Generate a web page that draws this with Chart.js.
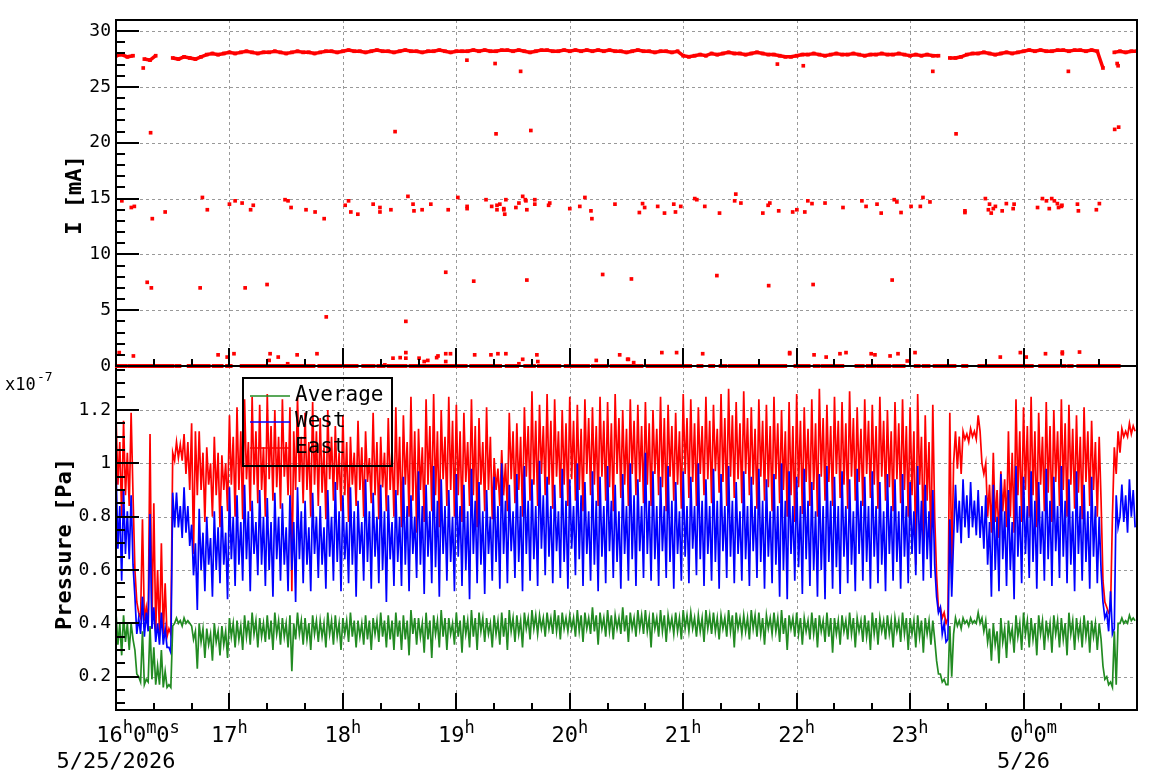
<!DOCTYPE html>
<html>
<head>
<meta charset="utf-8">
<title>Beam current and vacuum pressure</title>
<script src="https://cdn.jsdelivr.net/npm/chart.js@4.4.0/dist/chart.umd.min.js"></script>
<style>
  html, body { margin: 0; padding: 0; background: #fff; }
  #wrap { position: relative; width: 1158px; height: 782px; }
  canvas { position: absolute; left: 0; top: 0; }
</style>
</head>
<body>
<div id="wrap">
  <canvas id="pressure" width="1158" height="782"></canvas>
  <canvas id="current" width="1158" height="782"></canvas>
</div>
<script>
// ---- data ----
// time axis in minutes after 16:00 on 5/25/2026
const T_MIN = 0, T_MAX = 540;
const X_TICK_LABELS = ['16^h0^m0^s', '17^h', '18^h', '19^h', '20^h', '21^h', '22^h', '23^h', '0^h0^m'];
const X_DATE_LABELS = ['5/25/2026', '', '', '', '', '', '', '', '5/26'];
const X_LABEL_SHIFT = [22, 0, 0, 0, 0, 0, 0, 0, 10];

const I_TICKS = [0, 5, 10, 15, 20, 25, 30];
const P_TICKS = [0.2, 0.4, 0.6, 0.8, 1.0, 1.2];

// beam current [mA], main band sampled every 3 min (null = no data)
const BAND_STEP = 3;
const BAND_I = [
  27.8, 27.9, 27.7, 27.8, null, 27.5, 27.4, 27.8, null, null,
  27.6, 27.5, 27.7, 27.6, 27.5, 27.7, 27.9, 28.0, 27.9, 28.0,
  28.1, 28.0, 28.1, 28.2, 28.1, 28.0, 28.1, 28.1, 28.2, 28.1, 28.0, 28.1, 28.2, 28.1, 28.1, 28.0, 28.1, 28.2,
  28.2, 28.1, 28.2, 28.3, 28.2, 28.2, 28.1, 28.2, 28.3, 28.2, 28.2, 28.1, 28.2, 28.3, 28.2, 28.2, 28.1, 28.2, 28.2, 28.3, 28.2, 28.1, 28.2, 28.2,
  28.2, 28.3, 28.2, 28.3, 28.2, 28.2, 28.3, 28.3, 28.2, 28.3, 28.2, 28.1, 28.2, 28.3, 28.3, 28.2, 28.2, 28.3, 28.2, 28.3, 28.2, 28.3, 28.2, 28.3,
  28.2, 28.3, 28.2, 28.2, 28.1, 28.2, 28.3, 28.2, 28.2, 28.1, 28.2, 28.2, 28.1, 28.2,
  27.8, 27.7, 27.8, 27.9, 27.8,
  28.0, 27.9, 28.0, 28.1, 28.0, 28.0, 27.9, 28.0, 28.1, 28.0, 27.9, 27.9,
  27.8, 27.7, 27.7, 27.8,
  27.9, 27.9, 28.0, 27.9, 27.8, 27.9, 28.0, 27.9, 27.9, 28.0, 27.9, 27.8, 27.9, 27.9, 28.0, 27.9, 27.9, 28.0, 27.9, 27.8,
  27.9, 27.8, 27.9, 27.8, 27.8, null, 27.6, 27.6, 27.7,
  27.9, 28.0, 28.0, 28.1, 28.0, 27.9, 28.0, 28.1, 28.0, 28.1,
  28.2, 28.3, 28.2, 28.3, 28.2, 28.2, 28.3, 28.3, 28.2, 28.3, 28.3, 28.2, 28.3, 28.2,
  26.7, null, 28.1, 28.2, 28.1, 28.2, 28.2
];

// runs of I = 0 readings, [start, end] in minutes
const ZERO_RUNS = [
  0.5, 4.9, 7.1, 9.4, 10.3, 14.8, 16, 18, 19.2, 29.9, 32.2, 33.5, 38.5, 49, 51.7, 55.8,
  58.8, 60.6, 66.5, 68.7, 69.6, 71, 71.9, 76.4, 77.2, 79, 80.3, 84.4, 85.6, 91.5, 92.8, 95.1,
  96.9, 99.6, 101, 104.4, 107.6, 111.5, 113, 114.4, 116.5, 118.7, 121, 127.2, 130.8, 132.6,
  134.4, 136.2, 138.8, 141.5, 144.2, 148.7, 150.5, 153.1, 155.8, 157.2, 158.5, 160.8, 162, 173.7,
  175.4, 177.2, 179, 181.7, 182.6, 184.9, 187.9, 192.4, 193.9, 195.1, 196, 203.1, 206.7, 212.1,
  216.5, 221, 223.7, 234.4, 237.9, 245.1, 246.9, 249.6, 252.2, 254.9, 255.8, 259.4, 262.1, 264.8,
  266.7, 274.9, 276.1, 277.9, 281.2, 284.9, 286.7, 290.3, 291.6, 294.9, 296.3, 301.2, 302.3, 303.6,
  308.1, 309.6, 314.3, 315.8, 319.8, 322.1, 324.5, 326.7, 328.5, 333, 333.9, 337.2, 338.1, 343.9,
  345.4, 348.8, 350.3, 351.7, 352.5, 353.9, 359.4, 366.3, 369.6, 371.6, 373.9, 375.4, 376.3, 377.8,
  378.7, 380.5, 382.1, 384.1, 391.7, 394.9, 397.6, 398.8, 399.9, 401.2, 403.4, 404.9, 405.8, 407,
  407.8, 409, 411.6, 413.2, 415, 416.5, 423, 424.5, 427.2, 429.7, 433, 434.7, 435.4, 443.4,
  448.1, 449.7, 456.7, 458.5, 459.8, 472.1, 473, 474.1, 475.2, 480.3, 482.1, 484.3, 488.8, 493.6,
  494.9, 498.5, 500.8, 501.7, 504.1, 505.4, 509, 513.4, 515.4, 522.1, 523, 527, 528.5, 530.3
];

// isolated current readings [minute, mA]
const OUTLIERS = [
  [3.1,14.8],[8.1,14.2],[9.7,14.3],[18.3,20.9],[19.2,13.2],[26,13.8],[16.5,7.5],[18.7,7.0],[45.7,15.1],[48.3,14.0],
  [44.5,7.0],[60,14.5],[63,14.8],[66.7,14.6],[71.2,14.0],[72.6,14.4],[68.3,7.0],[79.9,7.3],[89.4,14.9],[91,14.8],
  [92.6,14.2],[100.5,14.0],[105.3,13.8],[110.1,13.2],[111.2,4.4],[121.2,14.4],[123,14.8],[124.2,13.8],[127.9,13.6],[136,14.5],
  [139.6,14.2],[139.6,13.8],[145.4,14.0],[147.6,21.0],[153.3,4.0],[154.4,15.2],[157.1,14.5],[157.6,13.9],[161.9,14.0],[166.5,14.5],
  [174.4,8.4],[175.7,14.0],[180.8,15.1],[185.7,14.3],[185.7,14.1],[189.2,7.6],[195.7,14.9],[198.7,14.3],[201,20.8],[201.5,14.4],
  [201.5,14.0],[203,14.5],[205.1,14.1],[205.1,14.0],[205.6,13.6],[206.2,14.9],[211.5,14.2],[213.1,14.6],[215.1,15.2],[216.5,14.9],
  [216.8,14.8],[217.3,14.0],[217.3,7.7],[219.4,21.1],[221.5,14.9],[221.5,14.5],[228.8,14.4],[229.4,14.6],[240,14.1],[245.3,14.3],
  [248,15.1],[251.2,13.9],[251.7,13.2],[257.4,8.2],[263.9,14.5],
  [272.6,7.8],[276.8,13.75],[278.5,14.55],[279.6,14.2],[286.5,14.3],[290.1,13.7],[295,14.5],[295.9,13.8],[298.7,14.3],[306.1,15.0],
  [307.2,14.9],[311.4,14.3],[317.8,8.1],[319.2,13.7],[327.2,14.8],[327.8,15.4],[330.5,14.6],[342.1,13.7],[344.9,14.4],[345.2,7.2],
  [345.8,14.6],[350.5,13.9],[357.9,13.8],[360.1,14.0],[364.3,13.8],[365.9,14.8],[368.1,14.55],[368.7,7.3],[375,14.6],[384.5,14.2],
  [394.5,14.8],[396.7,14.3],[402.5,14.5],[404.7,13.7],[410.5,7.7],[411.6,14.9],[413,14.7],[415.2,13.75],[420.5,14.3],[425.4,14.3],
  [426.8,15.1],[430.5,14.7],[444.3,20.8],[449,13.9],[449,13.75],[459.8,15.0],[461.4,14.0],[462,14.5],[462.9,13.7],[464,14.1],
  [465.1,14.3],[468.7,13.9],[470.9,14.55],[474.5,14.1],[475,14.5],[487.4,14.2],[490,15.0],[492.1,14.8],[493.6,14.1],[494.9,15.0],
  [496.3,14.8],[497.9,14.55],[498.5,14.2],[500,14.3],[500.3,14.4],[508.5,14.5],[509,13.9],[518.5,14.0],[520.1,14.55],[528.2,21.2],
  [530.3,21.4],
  [1.7,1.2],[9.2,0.9],[54,1.0],[58.8,0.8],[62.4,1.1],[81,0.5],[81.5,1.1],[85.8,0.8],[90.8,0.2],[95.8,1.0],
  [106.3,1.1],[142.2,0.1],[146.5,0.7],[150.3,0.75],[153.3,1.2],[153.3,0.7],[160.3,0.7],[163,0.4],[164.9,0.5],[169.6,0.75],
  [170.3,0.9],[174.4,0.4],[174.4,1.1],[176.9,1.1],[189.7,1.0],[198.3,1.0],[202,1.1],[206.2,1.1],[213.1,0.2],[215.1,0.6],
  [222.6,1.0],[223.1,0.4],[254,0.5],[266.4,1.0],[270.6,0.6],[271,0.6],[273.8,0.3],[288.7,1.2],[296.5,1.2],[310.3,1.1],
  [356.3,1.2],[356.3,1.1],[369.2,1.0],[375.6,0.8],[382.9,1.1],[386.1,1.2],[399.4,1.1],[401.4,1.0],[409.4,0.9],[413.6,1.1],
  [418.5,0.45],[422.6,1.2],[467.7,0.8],[478.3,1.2],[481.4,0.8],[491.6,1.1],[500.5,1.25],[500.5,1.1],[509.6,1.25],
  [14.4,26.7],[185.6,27.4],[200.5,27.1],[214,26.4],[349.8,27.05],[363.5,26.9],[432,26.4],[503.7,26.4],[529.5,27.1],[530,26.9]
];

// pressure in units of 1e-9 Pa, one reading per minute (rows of 4 = one 4-minute slice)
const P_STEP = 1;
const EAST_P = [
  118,92,108,80, 116,88,104,84, 119,88,60,48, 44,42,79,41, 46,40,111,38,
  85,37,60,36, 70,36,55,35, 38,36,104,101, 108,102,107,101, 111,96,108,90,
  115,66,112,88, 112,90,104,78, 106,92,100,80, 110,88,104,76, 103,90,100,82,
  118,92,110,80, 121,90,112,79, 124,94,108,82, 125,92,112,85, 122,90,106,80,
  126,94,114,86, 120,91,110,83, 124,95,108,88, 121,52,112,90, 125,93,110,85,
  119,90,108,80, 123,92,112,84, 117,89,106,79, 120,94,110,86, 114,90,104,82,
  118,88,108,78, 110,92,104,84, 116,90,106,80, 112,93,102,85, 119,88,108,79,
  110,91,104,82, 117,90,106,80, 121,88,110,76, 118,92,108,80, 125,86,112,74,
  113,90,106,78, 124,92,114,82, 126,88,112,76, 120,94,110,84, 125,90,116,80,
  122,88,112,78, 119,93,108,84, 124,88,114,76, 117,92,108,82, 121,90,110,79,
  102,90,98,84, 105,88,100,82, 119,94,112,85, 115,90,110,80, 121,95,114,86,
  127,92,116,84, 122,96,114,88, 126,92,116,83, 124,95,112,87, 120,92,115,84,
  125,94,116,86, 122,90,113,82, 124,96,117,88, 121,92,114,84, 125,95,116,86,
  123,91,115,82, 126,96,117,87, 120,92,113,84, 124,96,116,88, 122,93,114,85,
  123,92,115,84, 120,96,113,88, 125,91,117,82, 122,95,114,86, 119,92,112,83,
  126,96,117,87, 124,93,115,84, 121,96,114,88, 125,94,116,85, 122,97,113,89,
  126,93,117,84, 128,95,118,87, 123,94,115,85, 127,96,117,88, 121,92,113,83,
  124,95,116,86, 122,91,114,82, 125,94,115,85, 120,90,112,80, 123,88,114,78,
  126,91,116,81, 121,93,113,84, 124,90,115,80, 128,95,117,86, 122,93,114,84,
  125,96,116,87, 123,92,115,83, 127,95,117,86, 121,93,113,84, 124,96,116,87,
  122,92,114,83, 125,95,116,86, 120,91,112,82, 123,94,115,85, 124,90,114,80,
  121,88,112,62, 126,92,110,70, 118,86,108,66, 122,80,58,45, 46,42,44,40,
  42,119,60,100, 112,98,110,96, 112,109,111,108, 113,110,112,109, 118,112,100,96,
  100,80,92,74, 104,78,90,72, 97,82,94,76, 112,80,104,74, 124,88,112,78,
  121,90,114,80, 125,88,112,76, 119,92,110,82, 123,89,114,78, 120,93,112,84,
  124,90,115,80, 122,92,113,83, 118,89,110,79, 121,93,112,84, 116,90,108,80,
  110,86,56,48, 46,44,45,80, 106,96,112,104, 113,110,112,110, 115,111,114,112
];
const WEST_P = [
  99,68,84,56, 90,66,82,64, 88,62,50,36, 42,36,50,35, 44,37,81,38,
  46,33,40,32, 44,32,38,31, 31,29,89,76, 89,76,84,72, 91,74,84,69,
  77,58,70,45, 83,60,74,52, 80,62,72,50, 82,60,76,55, 84,62,74,49,
  91,64,80,54, 88,62,78,56, 92,64,82,52, 86,66,78,58, 90,62,80,54,
  87,60,78,50, 89,64,80,56, 85,62,76,52, 88,60,78,48, 91,64,82,55,
  86,62,76,52, 89,66,80,57, 84,62,76,53, 90,65,80,56, 93,63,82,52,
  88,64,78,55, 91,62,82,50, 86,66,78,56, 94,63,82,53, 89,65,80,55,
  92,60,82,48, 88,64,78,54, 90,63,80,54, 95,62,84,52, 88,66,80,57,
  97,62,84,51, 92,65,82,55, 99,61,86,50, 94,66,84,56, 90,63,80,52,
  96,65,84,54, 92,60,82,49, 98,66,86,55, 93,62,82,51, 90,66,80,56,
  95,63,84,53, 100,66,86,55, 92,67,82,57, 96,63,84,52, 99,66,86,56,
  94,64,84,54, 101,68,88,58, 95,65,84,55, 92,67,82,57, 98,63,86,53,
  94,68,84,58, 100,64,88,54, 93,66,82,56, 97,62,86,52, 95,65,84,55,
  99,67,86,57, 92,63,82,53, 96,66,84,56, 100,64,88,54, 94,67,84,57,
  104,66,86,56, 97,64,84,54, 95,67,84,57, 99,63,86,53, 93,66,82,56,
  97,65,84,55, 95,68,84,58, 100,64,86,54, 94,66,84,56, 98,63,86,53,
  96,67,84,57, 99,65,86,55, 93,66,82,56, 97,64,84,54, 95,67,84,57,
  98,63,86,53, 94,65,82,55, 96,62,84,50, 100,60,86,49, 97,66,84,56,
  95,61,84,51, 98,64,86,54, 93,60,82,50, 96,60,84,49, 99,63,86,53,
  95,61,84,51, 97,65,84,55, 94,62,82,52, 98,66,86,56, 95,63,84,53,
  97,65,84,55, 93,62,82,52, 96,66,84,56, 94,63,82,53, 96,65,84,55,
  93,66,82,58, 99,66,86,56, 92,64,82,57, 90,62,50,44, 46,36,40,33,
  34,79,50,72, 92,74,86,70, 94,76,88,72, 93,76,86,73, 90,72,84,68,
  88,62,78,50, 92,60,80,52, 96,64,82,54, 90,60,78,49, 99,65,84,55,
  95,66,84,57, 97,63,86,53, 93,66,82,56, 98,64,86,54, 95,67,84,57,
  99,65,86,55, 94,62,82,52, 97,66,84,56, 92,63,82,53, 95,65,84,55,
  80,60,48,42, 44,37,52,36, 38,88,76,80, 92,78,88,74, 94,80,90,76
];
const AVG_P = [
  44,32,40,28, 43,33,40,30, 40,34,30,21, 20,18,37,17, 19,18,39,19,
  31,17,24,17, 30,16,22,16, 17,16,39,40, 42,40,41,39, 42,40,41,40,
  39,34,37,23, 40,33,38,27, 38,32,36,26, 40,33,37,28, 39,32,37,27,
  42,35,40,31, 41,34,39,30, 43,35,41,32, 44,36,41,31, 42,35,40,33,
  43,34,41,30, 44,36,41,32, 42,35,40,31, 43,22,40,34, 44,36,41,32,
  42,34,40,30, 43,36,41,33, 41,35,40,31, 44,36,41,32, 43,35,40,30,
  42,36,41,33, 44,35,41,31, 41,35,40,32, 43,34,41,30, 42,36,41,33,
  44,35,41,31, 43,34,41,30, 44,35,41,30, 43,34,41,28, 45,36,42,32,
  42,35,40,29, 44,34,41,27, 43,36,41,31, 45,35,42,30, 42,36,40,32,
  44,35,41,29, 43,36,41,31, 45,35,42,30, 44,37,42,33, 42,36,40,31,
  43,36,41,32, 44,35,42,30, 45,37,42,33, 43,36,41,31, 44,38,42,34,
  45,38,43,36, 43,38,42,35, 44,38,42,36, 45,37,43,34, 44,38,42,37,
  43,38,42,35, 45,37,43,33, 44,38,42,36, 46,37,43,32, 44,38,42,35,
  45,37,43,34, 43,38,42,36, 46,37,43,33, 44,38,42,35, 45,38,43,36,
  45,37,42,31, 44,38,42,35, 45,37,43,33, 43,38,42,36, 44,37,42,34,
  45,38,43,37, 44,38,42,35, 43,37,42,33, 45,38,43,36, 44,37,42,34,
  43,38,42,35, 45,37,43,31, 44,38,42,36, 43,37,42,34, 45,38,43,35,
  44,36,42,32, 43,38,42,36, 44,37,42,33, 45,36,42,30, 43,38,42,35,
  44,36,42,32, 42,37,41,34, 44,36,42,31, 43,37,41,33, 44,35,42,29,
  42,36,41,32, 43,37,41,34, 44,36,42,31, 42,37,41,33, 43,35,41,30,
  44,36,42,32, 42,37,41,34, 43,36,41,31, 42,37,41,33, 44,36,42,30,
  42,36,41,31, 43,35,41,29, 42,36,41,32, 41,34,26,21, 21,18,19,17,
  17,39,20,36, 42,39,41,38, 42,40,41,39, 42,40,41,40, 44,40,42,37,
  41,33,38,26, 40,32,37,25, 42,33,38,27, 41,34,38,29, 43,35,40,30,
  44,36,41,31, 42,34,40,28, 43,36,41,30, 41,35,40,29, 43,36,41,31,
  42,34,40,28, 44,36,41,30, 42,35,40,31, 43,35,41,29, 41,35,40,30,
  40,34,24,19, 20,17,18,16, 37,17,40,40, 42,40,41,40, 43,41,42,41
];

// ---- style ----
const FONT = '"DejaVu Sans Mono", monospace';
const RED = '#ff0000', BLUE = '#0000ff', GREEN = '#228b22';
const GRID_COLOR = '#999999';
const TRACE_WIDTH = 1.7;

// ---- helpers ----
function pressurePoints(arr) {
  return arr.map((v, i) => ({ x: i * P_STEP, y: v / 100 }));
}

const zeroPoints = [];
for (let i = 0; i < ZERO_RUNS.length; i += 2) {
  zeroPoints.push({ x: ZERO_RUNS[i], y: 0 }, { x: ZERO_RUNS[i + 1], y: 0 }, { x: ZERO_RUNS[i + 1], y: null });
}

// ROOT-like frame: dotted grid, inward tick marks, box
function rootFrame(cfg) {
  return {
    id: 'rootFrame',
    beforeDatasetsDraw(chart) {
      const { ctx, chartArea: a, scales: { x, y } } = chart;
      ctx.save();
      ctx.strokeStyle = GRID_COLOR;
      ctx.lineWidth = 1;
      ctx.setLineDash([3, 3]);
      ctx.beginPath();
      for (let h = 1; h < 9; h++) {
        const px = Math.round(x.getPixelForValue(h * 60)) + 0.5;
        ctx.moveTo(px, a.top); ctx.lineTo(px, a.bottom);
      }
      cfg.yGrid.forEach(v => {
        const py = Math.round(y.getPixelForValue(v)) + 0.5;
        ctx.moveTo(a.left, py); ctx.lineTo(a.right, py);
      });
      ctx.stroke();
      ctx.restore();
    },
    afterDatasetsDraw(chart) {
      const { ctx, chartArea: a, scales: { x, y } } = chart;
      ctx.save();
      ctx.strokeStyle = '#000';
      ctx.lineWidth = 2;
      ctx.beginPath();
      // y ticks along left edge, pointing inward
      for (let i = cfg.yMinorFrom; i <= cfg.yMinorTo; i++) {
        const v = i * cfg.yMinorStep;
        const py = Math.round(y.getPixelForValue(v));
        const len = i % cfg.yMajorEvery === 0 ? 23 : 9;
        ctx.moveTo(a.left, py); ctx.lineTo(a.left + len, py);
      }
      // x ticks along bottom edge, every 20 min
      for (let i = 1; i < 27; i++) {
        const px = Math.round(x.getPixelForValue(i * 20));
        const len = i % 3 === 0 ? cfg.xMajorLen : 7;
        ctx.moveTo(px, a.bottom); ctx.lineTo(px, a.bottom - len);
      }
      ctx.stroke();
      ctx.strokeRect(a.left, a.top, a.right - a.left, a.bottom - a.top);
      ctx.restore();
    },
    afterDraw(chart) {
      if (cfg.afterDraw) cfg.afterDraw(chart);
    }
  };
}

function drawRich(ctx, text, left, baseline, size) {
  const segs = [];
  for (let i = 0; i < text.length; i++) {
    if (text[i] === '^') { segs.push({ s: text[i + 1], sup: true }); i++; }
    else if (segs.length && !segs[segs.length - 1].sup) segs[segs.length - 1].s += text[i];
    else segs.push({ s: text[i], sup: false });
  }
  const supSize = Math.round(size * 0.75);
  let w = 0;
  segs.forEach(g => {
    ctx.font = (g.sup ? supSize : size) + 'px ' + FONT;
    g.w = ctx.measureText(g.s).width;
    w += g.w;
  });
  if (left === null) return w;
  let cx = left;
  segs.forEach(g => {
    ctx.font = (g.sup ? supSize : size) + 'px ' + FONT;
    ctx.fillText(g.s, cx, g.sup ? baseline - size * 0.42 : baseline);
    cx += g.w;
  });
  return w;
}

function axisTitle(ctx, text, cx, cy) {
  ctx.save();
  ctx.translate(cx, cy);
  ctx.rotate(-Math.PI / 2);
  ctx.font = 'bold 22px ' + FONT;
  ctx.textAlign = 'center';
  ctx.textBaseline = 'middle';
  ctx.fillStyle = '#000';
  ctx.fillText(text, 0, 0);
  ctx.restore();
}

function commonScales(yMin, yMax, yTicks, yFmt) {
  return {
    x: {
      type: 'linear', min: T_MIN, max: T_MAX,
      ticks: { display: false },
      grid: { display: false, drawTicks: false },
      border: { display: false },
      afterFit: s => { s.height = 0; }
    },
    y: {
      type: 'linear', min: yMin, max: yMax,
      afterBuildTicks: s => { s.ticks = yTicks.map(v => ({ value: v })); },
      ticks: { callback: yFmt, font: { family: FONT, size: 18 }, color: '#000', padding: 5 },
      grid: { display: false, drawTicks: false },
      border: { display: false },
      afterFit: s => { s.width = 116; }
    }
  };
}

// ---- bottom panel: pressure ----
// datasets listed top-most first (Chart.js paints the last one first)
new Chart(document.getElementById('pressure'), {
  type: 'line',
  data: {
    datasets: [
      { label: 'Average', data: pressurePoints(AVG_P), borderColor: GREEN, borderWidth: TRACE_WIDTH, pointRadius: 0 },
      { label: 'West', data: pressurePoints(WEST_P), borderColor: BLUE, borderWidth: TRACE_WIDTH, pointRadius: 0 },
      { label: 'East', data: pressurePoints(EAST_P), borderColor: RED, borderWidth: TRACE_WIDTH, pointRadius: 0 }
    ]
  },
  options: {
    responsive: false, animation: false, events: [],
    layout: { padding: { top: 366, right: 21, bottom: 72, left: 0 } },
    plugins: { legend: { display: false }, tooltip: { enabled: false } },
    scales: commonScales(0.075, 1.365, P_TICKS, v => String(+v.toFixed(2)))
  },
  plugins: [rootFrame({
    yGrid: P_TICKS, yMinorFrom: 2, yMinorTo: 27, yMinorStep: 0.05, yMajorEvery: 4, xMajorLen: 17,
    afterDraw(chart) {
      const { ctx, scales: { x } } = chart;
      ctx.save();
      ctx.fillStyle = '#000';
      ctx.textBaseline = 'alphabetic';
      // time labels
      X_TICK_LABELS.forEach((lab, i) => {
        const px = x.getPixelForValue(i * 60);
        const w = drawRich(ctx, lab, null, 0, 22);
        drawRich(ctx, lab, px - w / 2 + X_LABEL_SHIFT[i], 742, 22);
        if (X_DATE_LABELS[i]) {
          ctx.font = '22px ' + FONT;
          ctx.textAlign = 'center';
          ctx.fillText(X_DATE_LABELS[i], px, 768);
          ctx.textAlign = 'left';
        }
      });
      // exponent
      ctx.font = '17px ' + FONT;
      ctx.fillText('x10', 5, 390);
      ctx.font = '13px ' + FONT;
      ctx.fillText('-7', 37, 381);
      ctx.restore();
      axisTitle(ctx, 'Pressure [Pa]', 65, 544);
      // legend
      ctx.save();
      ctx.strokeStyle = '#000';
      ctx.lineWidth = 2;
      ctx.strokeRect(243, 378, 149, 88);
      chart.data.datasets.forEach((ds, i) => {
        const yy = 396 + 26 * i;
        ctx.strokeStyle = ds.borderColor;
        ctx.lineWidth = 1.5;
        ctx.beginPath(); ctx.moveTo(250, yy); ctx.lineTo(290, yy); ctx.stroke();
        ctx.fillStyle = '#000';
        ctx.font = '21px ' + FONT;
        ctx.textBaseline = 'middle';
        ctx.fillText(ds.label, 295, yy);
      });
      ctx.restore();
    }
  })]
});

// ---- top panel: beam current ----
new Chart(document.getElementById('current'), {
  type: 'line',
  data: {
    datasets: [
      { label: 'zero', data: zeroPoints, borderColor: RED, borderWidth: 4, borderCapStyle: 'square', pointRadius: 0, spanGaps: false, clip: false },
      { label: 'outliers', data: OUTLIERS.map(([t, v]) => ({ x: t, y: v })), showLine: false, pointStyle: 'rect', pointRadius: 2.6, pointBackgroundColor: RED, pointBorderWidth: 0 },
      { label: 'I', data: BAND_I.map((v, i) => ({ x: i * BAND_STEP, y: v })), borderColor: RED, borderWidth: 3.5, spanGaps: false, pointStyle: 'rect', pointRadius: 2.6, pointBackgroundColor: RED, pointBorderWidth: 0 }
    ]
  },
  options: {
    responsive: false, animation: false, events: [],
    layout: { padding: { top: 20, right: 21, bottom: 416, left: 0 } },
    plugins: { legend: { display: false }, tooltip: { enabled: false } },
    scales: commonScales(0, 31, I_TICKS, v => String(v))
  },
  plugins: [rootFrame({
    yGrid: I_TICKS.slice(1), yMinorFrom: 0, yMinorTo: 30, yMinorStep: 1, yMajorEvery: 5, xMajorLen: 18,
    afterDraw(chart) { axisTitle(chart.ctx, 'I [mA]', 75, 195); }
  })]
});
</script>
</body>
</html>
